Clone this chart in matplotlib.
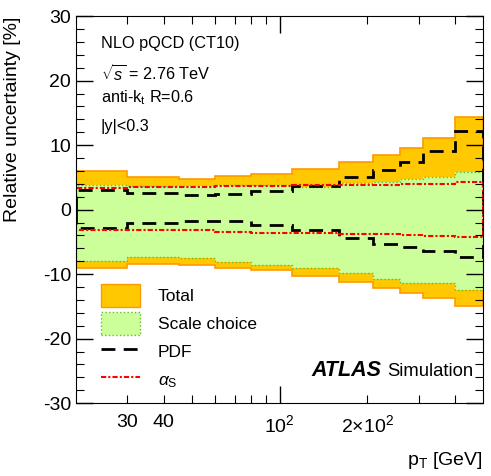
import numpy as np
import matplotlib
matplotlib.use('Agg')
import matplotlib.pyplot as plt
from matplotlib.patches import Patch
from matplotlib.lines import Line2D
from matplotlib.ticker import FixedLocator, FixedFormatter

plt.rcParams['font.family'] = ['Liberation Sans', 'DejaVu Sans']
plt.rcParams['mathtext.fontset'] = 'custom'
plt.rcParams['mathtext.rm'] = 'Liberation Sans'
plt.rcParams['mathtext.it'] = 'Liberation Sans:italic'
plt.rcParams['axes.unicode_minus'] = False

# pT bin edges [GeV]
edges = [20, 30, 45, 60, 80, 110, 160, 210, 260, 310, 400, 500]

# relative uncertainties [%] per bin
total_up = [6.0, 5.1, 4.8, 5.2, 5.6, 6.3, 7.4, 8.4, 9.6, 11.1, 14.3]
total_dn = [-9.0, -8.4, -8.5, -9.1, -9.4, -10.3, -11.2, -12.1, -12.9, -13.7, -15.0]
scale_up = [3.9, 3.7, 3.7, 3.8, 3.8, 3.5, 4.1, 4.3, 4.7, 5.0, 5.8]
scale_dn = [-7.9, -7.4, -7.5, -8.1, -8.5, -9.0, -9.8, -10.8, -11.4, -11.4, -12.4]
pdf_up = [3.0, 2.6, 2.3, 2.5, 2.9, 3.7, 5.0, 6.2, 7.4, 9.1, 12.2]
pdf_dn = [-2.8, -2.1, -1.8, -1.8, -2.4, -3.2, -4.4, -5.3, -5.8, -6.4, -7.4]
as_up = [3.3, 3.5, 3.5, 3.7, 3.6, 3.8, 3.9, 3.9, 4.0, 4.0, 4.3]
as_dn = [-3.2, -3.2, -3.2, -3.5, -3.6, -3.6, -3.7, -3.8, -4.0, -4.1, -4.2]

orange = '#ffc800'
orange_edge = '#ff9900'
green = '#ccff99'
green_edge = '#66bb33'
dash = (0, (5, 3))
dashdot = (0, (2.5, 1, 1, 1))

fig = plt.figure(figsize=(4.91, 4.76), dpi=100)
ax = fig.add_axes([0.155, 0.153, 0.829, 0.813])

ax.stairs(total_up, edges, baseline=total_dn, fill=True, color=orange)
ax.stairs(total_up, edges, baseline=total_dn, color=orange_edge, lw=1.2)
ax.stairs(scale_up, edges, baseline=scale_dn, fill=True, color=green)
ax.stairs(scale_up, edges, baseline=scale_dn, color=green_edge, lw=1, ls=':')
ax.stairs(pdf_up, edges, color='black', lw=2, ls=dash)
ax.stairs(pdf_dn, edges, color='black', lw=2, ls=dash)
ax.stairs(as_up, edges, color='red', lw=1.5, ls=dashdot)
ax.stairs(as_dn, edges, color='red', lw=1.5, ls=dashdot)

ax.set_xscale('log')
ax.set_xlim(20, 500)
ax.set_ylim(-30, 30)

ax.xaxis.set_major_locator(FixedLocator([100]))
ax.xaxis.set_major_formatter(FixedFormatter([r'$10^2$']))
minor = [30, 40, 50, 60, 70, 80, 90, 200, 300, 400]
ax.xaxis.set_minor_locator(FixedLocator(minor))
ax.xaxis.set_minor_formatter(FixedFormatter(['30', '40', '', '', '', '', '', r'$2{\times}10^2$', '', '']))
ax.set_yticks([-30, -20, -10, 0, 10, 20, 30])
ax.set_yticks(np.arange(-30, 31, 2), minor=True)

ax.tick_params(which='both', direction='in', top=True, right=True, labelsize=14)
ax.tick_params(which='major', length=12, width=1)
ax.tick_params(which='minor', length=6, width=0.8)
ax.tick_params(axis='x', which='both', pad=8)

ax.set_ylabel('Relative uncertainty [%]', fontsize=14, ha='right', y=1.0)
ax.yaxis.set_label_coords(-0.135, 1.0)
ax.set_xlabel(r'p$_\mathregular{T}$ [GeV]', fontsize=14, ha='right', x=1.0)
ax.xaxis.set_label_coords(1.0, -0.12)

ax.text(0.06, 0.93, 'NLO pQCD (CT10)', transform=ax.transAxes, fontsize=11.7, va='center')
ax.text(0.06, 0.852, r'$\sqrt{s}$ = 2.76 TeV', transform=ax.transAxes, fontsize=11.7, va='center')
ax.text(0.06, 0.79, r'anti-k$_\mathregular{t}$ R=0.6', transform=ax.transAxes, fontsize=11.7, va='center')
ax.text(0.06, 0.714, '|y|<0.3', transform=ax.transAxes, fontsize=11.7, va='center')

ax.text(0.578, 0.085, 'ATLAS', transform=ax.transAxes, fontsize=15.5,
        weight='bold', style='italic', va='center')
ax.text(0.765, 0.083, 'Simulation', transform=ax.transAxes, fontsize=13.3, va='center')

handles = [Patch(facecolor=orange, edgecolor=orange_edge, lw=1),
           Patch(facecolor=green, edgecolor=green_edge, lw=1, ls=':'),
           Line2D([], [], color='black', lw=2, ls=dash),
           Line2D([], [], color='red', lw=1.5, ls=dashdot)]
labels = ['Total', 'Scale choice', 'PDF', r'$\alpha_\mathregular{S}$']
ax.legend(handles, labels, loc='upper left', bbox_to_anchor=(0.043, 0.325),
          frameon=False, fontsize=12.5, handlelength=2.3, handleheight=1.6,
          handletextpad=1.0, labelspacing=0.33, borderaxespad=0)

fig.savefig('out.png', dpi=100)
